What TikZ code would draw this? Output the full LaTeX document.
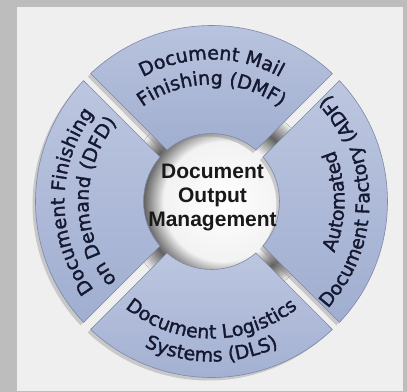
\documentclass[tikz,border=0pt]{standalone}
\usepackage{fontspec}
\usepackage{xcolor}
\usetikzlibrary{decorations.text,shadows}
\newfontfamily\segfont{DejaVu Sans}[FakeBold=1.6]
\newfontfamily\hubfont{Liberation Sans}
\definecolor{pagegray}{HTML}{BDBDBD}
\definecolor{panelwhite}{HTML}{EFEFEF}
\definecolor{segtop}{HTML}{BCC6E0}
\definecolor{segbottom}{HTML}{A0AED0}
\definecolor{segedge}{HTML}{7C88A8}
\definecolor{labelnavy}{HTML}{141830}
\pgfdeclareradialshading{hubshade}{\pgfpoint{0bp}{0bp}}{color(0bp)=(white); color(15bp)=(white!95!black); color(20bp)=(black!62); color(23.5bp)=(panelwhite!80!black); color(25bp)=(panelwhite); color(50bp)=(panelwhite)}

\begin{document}
\begin{tikzpicture}[x=1bp,y=1bp,every text node part/.style={align=center}]
\tikzset{ringpart/.style={top color=segtop,bottom color=segbottom,draw=segedge,line width=0.6bp,
  drop shadow={shadow xshift=-3bp,shadow yshift=-3bp,opacity=0.35}}}
\tikzset{seglabel/.style={decorate,decoration={text along path,text align=center,text color=labelnavy,
  text={|\segfont\fontsize{19bp}{22bp}\selectfont|#1}}}}
\useasboundingbox (-211.5,-190.5) rectangle (195.5,201.5);
\fill [pagegray] (-211.5,-190.5) rectangle (195.5,201.5);
\fill [panelwhite] (-194.5,-189.5) rectangle (191.5,194.5);
\fill [shading=hubshade] (12,0) circle (100);
% four parts of the ring
\draw [ringpart] (46.63:176) arc[start angle=46.63,end angle=133.37,radius=176] -- (130.87:68) arc[start angle=130.87,end angle=49.13,radius=68] -- cycle;
\draw [ringpart] (-43.37:176) arc[start angle=-43.37,end angle=43.37,radius=176] -- (40.87:68) arc[start angle=40.87,end angle=-40.87,radius=68] -- cycle;
\draw [ringpart] (226.63:176) arc[start angle=226.63,end angle=313.37,radius=176] -- (310.87:68) arc[start angle=310.87,end angle=229.13,radius=68] -- cycle;
\draw [ringpart] (136.63:176) arc[start angle=136.63,end angle=223.37,radius=176] -- (220.87:68) arc[start angle=220.87,end angle=139.13,radius=68] -- cycle;
% labels
\path [seglabel={Document Mail}] (150:142) arc[start angle=150,end angle=30,radius=142];
\path [seglabel={Finishing (DMF)}] (150:117) arc[start angle=150,end angle=30,radius=117];
\path [seglabel={Automated}] (-60:133) arc[start angle=-60,end angle=60,radius=133];
\path [seglabel={Document Factory (ADF)}] (-60:158) arc[start angle=-60,end angle=60,radius=158];
\path [seglabel={Document Logistics}] (210:137) arc[start angle=210,end angle=330,radius=137];
\path [seglabel={Systems (DLS)}] (210:160) arc[start angle=210,end angle=330,radius=160];
\path [seglabel={Document Finishing}] (240:147) arc[start angle=240,end angle=120,radius=147];
\path [seglabel={on Demand (DFD)}] (240:123) arc[start angle=240,end angle=120,radius=123];
\node [font=\hubfont\bfseries\fontsize{21bp}{24bp}\selectfont,text=black!90] (hub) at (1,4) {Document\\Output\\Management};
\end{tikzpicture}
\end{document}
